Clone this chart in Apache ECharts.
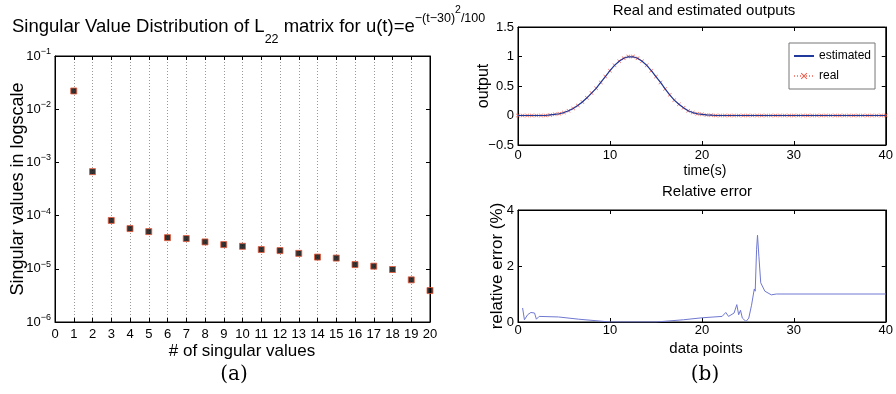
<!DOCTYPE html>
<html>
<head>
<meta charset="utf-8">
<script src="https://cdn.jsdelivr.net/npm/echarts@6/dist/echarts.min.js"></script>
<style>
  html, body { margin: 0; padding: 0; background: #fff; }
  #main { width: 896px; height: 394px; }
</style>
</head>
<body>
<div id="main"></div>
<script>
// (a) singular values
const svIndex = [1, 2, 3, 4, 5, 6, 7, 8, 9, 10, 11, 12, 13, 14, 15, 16, 17, 18, 19, 20];
const svValues = [2.2e-2, 6.7e-4, 8.1e-5, 5.7e-5, 5.0e-5, 3.85e-5, 3.7e-5, 3.2e-5, 2.85e-5, 2.65e-5,
  2.3e-5, 2.2e-5, 1.95e-5, 1.66e-5, 1.59e-5, 1.2e-5, 1.12e-5, 9.7e-6, 6.2e-6, 3.9e-6];

// (b) real and estimated outputs
const timeS = [0, 0.5, 1, 1.5, 2, 2.5, 3, 3.5, 4, 4.5, 5, 5.5, 6, 6.5, 7, 7.5, 8, 8.5, 9, 9.5,
  10, 10.5, 11, 11.5, 12, 12.5, 13, 13.5, 14, 14.5, 15, 15.5, 16, 16.5, 17, 17.5, 18, 18.5, 19, 19.5,
  20, 20.5, 21, 21.5, 22, 22.5, 23, 23.5, 24, 24.5, 25, 25.5, 26, 26.5, 27, 27.5, 28, 28.5, 29, 29.5,
  30, 30.5, 31, 31.5, 32, 32.5, 33, 33.5, 34, 34.5, 35, 35.5, 36, 36.5, 37, 37.5, 38, 38.5, 39, 39.5, 40];
const realOut = [0, 0, 0, 0, 0, 0, 0, 0.01, 0.02, 0.03, 0.05, 0.08, 0.12, 0.17, 0.23, 0.3, 0.38, 0.46, 0.56, 0.66,
  0.76, 0.85, 0.92, 0.97, 1.0, 1.0, 0.97, 0.92, 0.85, 0.76, 0.66, 0.56, 0.45, 0.35, 0.26, 0.19, 0.13, 0.08, 0.05, 0.03,
  0.02, 0.01, 0.005, 0, 0, 0, 0, 0, 0, 0, 0, 0, 0, 0, 0, 0, 0, 0, 0, 0,
  0, 0, 0, 0, 0, 0, 0, 0, 0, 0, 0, 0, 0, 0, 0, 0, 0, 0, 0, 0, 0];
const estOut = [0, 0, 0, 0, 0, 0, 0, 0.01, 0.02, 0.03, 0.05, 0.08, 0.12, 0.17, 0.23, 0.3, 0.38, 0.46, 0.56, 0.66,
  0.76, 0.85, 0.92, 0.97, 0.995, 0.995, 0.97, 0.92, 0.85, 0.76, 0.66, 0.56, 0.45, 0.35, 0.26, 0.19, 0.13, 0.08, 0.05, 0.03,
  0.02, 0.01, 0.005, 0, 0, 0, 0, 0, 0, 0, 0, 0, 0, 0, 0, 0, 0, 0, 0, 0,
  0, 0, 0, 0, 0, 0, 0, 0, 0, 0, 0, 0, 0, 0, 0, 0, 0, 0, 0, 0, 0];

// relative error
const errX = [0.5, 0.7, 1.05, 1.4, 1.8, 2.0, 2.3, 4.4, 6.6, 8.7, 10, 15, 18, 20, 22.2, 22.6, 22.9, 23.5, 23.8, 24.0,
  24.2, 24.4, 24.8, 25.1, 25.4, 25.7, 25.8, 25.95, 26.05, 26.2, 26.4, 26.85, 27.55, 28.1, 40];
const errVals = [0.5, 0.08, 0.26, 0.34, 0.32, 0.1, 0.2, 0.18, 0.1, 0.04, 0.0, 0.0, 0.08, 0.15, 0.2, 0.34, 0.2, 0.32, 0.62, 0.26,
  0.42, 0.14, 0.02, 0.14, 0.6, 1.18, 1.1, 2.6, 3.1, 2.35, 1.4, 1.1, 0.97, 1.0, 1.0];

const FONT = '"Liberation Sans", Arial, sans-serif';
const crossPath = 'path://M0,1L1,0L5,4L9,0L10,1L6,5L10,9L9,10L5,6L1,10L0,9L4,5Z';
const zip = (a, b) => a.map((v, i) => [v, b[i]]);

// title (a): text pieces with baseline, laid out left to right
const titleParts = [
  { text: 'Singular Value Distribution of L', size: 18.5, base: 32 },
  { text: '22', size: 12.5, base: 43 },
  { text: ' matrix for u(t)=e', size: 18.5, base: 32 },
  { text: '−(t−30)', size: 12.5, base: 22 },
  { text: '2', size: 10.5, base: 13 },
  { text: '/100', size: 12.5, base: 22 }
];

function textRun(parts, x0) {
  const ctx = document.createElement('canvas').getContext('2d');
  let x = x0;
  return parts.map((p) => {
    const font = p.size + 'px ' + FONT;
    ctx.font = font;
    const el = {
      type: 'text', x: x, y: p.base - 0.3 * p.size,
      style: { text: p.text, font: font, fill: '#000', verticalAlign: 'middle' }
    };
    x += ctx.measureText(p.text).width;
    return el;
  });
}

function label(text, x, y, size, rot, family) {
  return {
    type: 'text', x: x, y: y, rotation: rot || 0,
    style: { text: text, font: size + 'px ' + (family || FONT), fill: '#000', align: 'center', verticalAlign: 'middle' }
  };
}

const chart = echarts.init(document.getElementById('main'));

const tickIn = { show: true, inside: true, length: 4, lineStyle: { color: '#000' } };
const lineBlack = { show: true, onZero: false, lineStyle: { color: '#000', width: 1 } };
const lbl = { color: '#000', fontFamily: FONT, fontSize: 13 };

const option = {
  animation: false,
  backgroundColor: '#fff',
  grid: [
    { left: 55, top: 56, width: 375, height: 266, show: true, borderColor: '#000', borderWidth: 1 },
    { left: 518, top: 27, width: 375, height: 118, show: true, borderColor: '#000', borderWidth: 1 },
    { left: 518, top: 210, width: 375, height: 112, show: true, borderColor: '#000', borderWidth: 1 }
  ],
  xAxis: [
    {
      gridIndex: 0, type: 'value', min: 0, max: 20, interval: 1,
      axisLine: lineBlack, axisTick: tickIn,
      axisLabel: { ...lbl, margin: 6 },
      splitLine: { show: true, lineStyle: { color: '#999', type: [1, 2], width: 1 } }
    },
    {
      gridIndex: 0, type: 'value', min: 0, max: 20, interval: 1, position: 'top',
      axisLine: lineBlack, axisTick: tickIn, axisLabel: { show: false }, splitLine: { show: false }
    },
    {
      gridIndex: 1, type: 'value', min: 0, max: 40, interval: 10,
      axisLine: lineBlack, axisTick: tickIn, axisLabel: { ...lbl, margin: 4 }, splitLine: { show: false }
    },
    {
      gridIndex: 1, type: 'value', min: 0, max: 40, interval: 10, position: 'top',
      axisLine: lineBlack, axisTick: tickIn, axisLabel: { show: false }, splitLine: { show: false }
    },
    {
      gridIndex: 2, type: 'value', min: 0, max: 40, interval: 10,
      axisLine: lineBlack, axisTick: tickIn, axisLabel: { ...lbl, margin: 2 }, splitLine: { show: false }
    },
    {
      gridIndex: 2, type: 'value', min: 0, max: 40, interval: 10, position: 'top',
      axisLine: lineBlack, axisTick: tickIn, axisLabel: { show: false }, splitLine: { show: false }
    }
  ],
  yAxis: [
    {
      gridIndex: 0, type: 'log', logBase: 10, min: 1e-6, max: 1e-1, interval: 1,
      axisLine: lineBlack, axisTick: tickIn, splitLine: { show: false },
      axisLabel: {
        color: '#000', margin: 4,
        formatter: (v) => '{b|10}{s|' + String(Math.round(Math.log10(v))).replace('-', '−') + '}',
        rich: {
          b: { fontFamily: FONT, fontSize: 13, color: '#000', lineHeight: 18, verticalAlign: 'middle' },
          s: { fontFamily: FONT, fontSize: 9, color: '#000', lineHeight: 8, verticalAlign: 'top' }
        }
      }
    },
    {
      gridIndex: 0, type: 'log', logBase: 10, min: 1e-6, max: 1e-1, interval: 1, position: 'right',
      axisLine: lineBlack, axisTick: tickIn, axisLabel: { show: false }, splitLine: { show: false }
    },
    {
      gridIndex: 1, type: 'value', min: -0.5, max: 1.5, interval: 0.5,
      axisLine: lineBlack, axisTick: tickIn, splitLine: { show: false },
      axisLabel: { ...lbl, margin: 4, formatter: (v) => String(v).replace('-', '−') }
    },
    {
      gridIndex: 1, type: 'value', min: -0.5, max: 1.5, interval: 0.5, position: 'right',
      axisLine: lineBlack, axisTick: tickIn, axisLabel: { show: false }, splitLine: { show: false }
    },
    {
      gridIndex: 2, type: 'value', min: 0, max: 4, interval: 2,
      axisLine: lineBlack, axisTick: tickIn, splitLine: { show: false },
      axisLabel: { ...lbl, margin: 4 }
    },
    {
      gridIndex: 2, type: 'value', min: 0, max: 4, interval: 2, position: 'right',
      axisLine: lineBlack, axisTick: tickIn, axisLabel: { show: false }, splitLine: { show: false }
    }
  ],
  legend: {
    left: 789, top: 43,
    orient: 'vertical', itemGap: 8, itemWidth: 20, itemHeight: 8,
    padding: [7, 4, 7, 4],
    backgroundColor: '#fff', borderColor: '#777', borderWidth: 1,
    textStyle: { color: '#000', fontFamily: FONT, fontSize: 12 },
    data: [
      { name: 'estimated', itemStyle: { color: 'rgba(0,0,0,0)', borderWidth: 0 } },
      'real'
    ]
  },
  series: [
    {
      name: 'singular values', type: 'scatter', xAxisIndex: 0, yAxisIndex: 0,
      symbol: 'rect', symbolSize: 6,
      itemStyle: { color: '#000', borderColor: '#e8593a', borderWidth: 1 },
      data: zip(svIndex, svValues)
    },
    {
      name: 'real', type: 'line', xAxisIndex: 2, yAxisIndex: 2,
      symbol: crossPath, symbolSize: 4, showSymbol: true,
      itemStyle: { color: '#f05a4a' },
      lineStyle: { color: '#f58a80', width: 1, type: [1, 2] },
      data: zip(timeS, realOut), z: 2
    },
    {
      name: 'estimated', type: 'line', xAxisIndex: 2, yAxisIndex: 2,
      symbol: 'none', itemStyle: { color: '#1f3a9a' },
      lineStyle: { color: '#1f3a9a', width: 1.2 },
      data: zip(timeS, estOut), z: 3
    },
    {
      name: 'relative error', type: 'line', xAxisIndex: 4, yAxisIndex: 4,
      symbol: 'none', lineStyle: { color: '#6f78d0', width: 1 },
      data: zip(errX, errVals)
    }
  ],
  graphic: [
    ...textRun(titleParts, 12),
    label('Singular values in logscale', 18, 189, 18, Math.PI / 2),
    label('# of singular values', 242, 351, 17),
    label('(a)', 234, 375, 20, 0, '"DejaVu Serif", serif'),
    label('Real and estimated outputs', 704, 11, 15),
    label('output', 484, 86, 16, Math.PI / 2),
    label('time(s)', 705, 171, 14),
    label('Relative error', 707, 192, 15),
    label('relative error (%)', 497, 266, 17, Math.PI / 2),
    label('data points', 706, 349, 15),
    label('(b)', 705, 375, 20, 0, '"DejaVu Serif", serif')
  ]
};

chart.setOption(option);
</script>
</body>
</html>
